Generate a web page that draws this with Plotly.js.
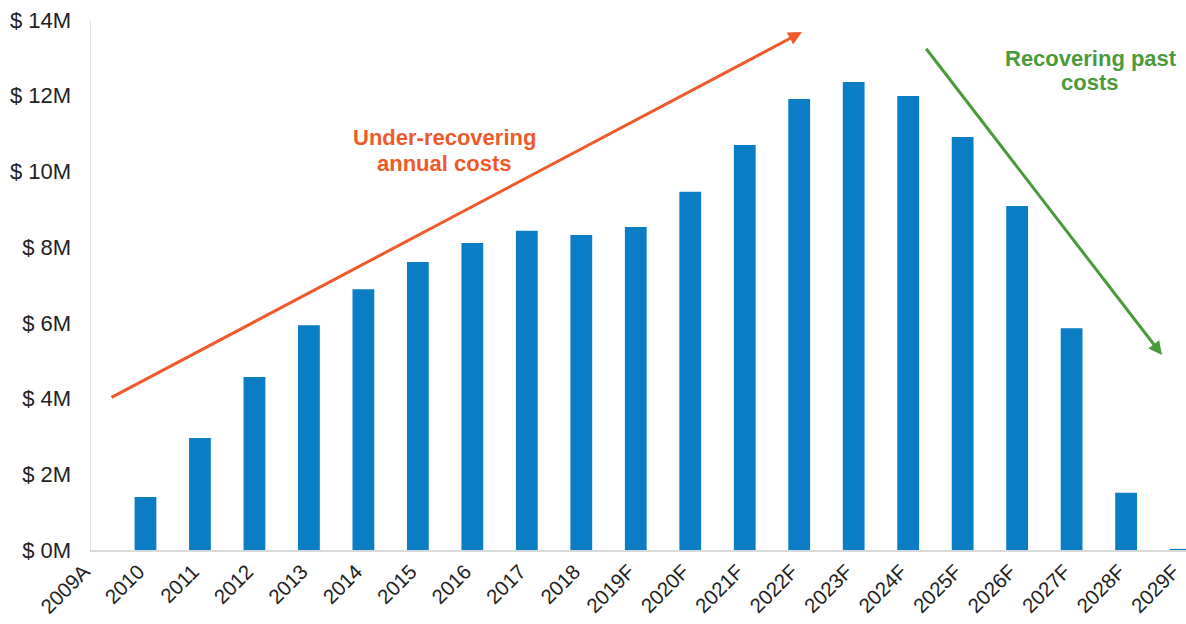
<!DOCTYPE html>
<html>
<head>
<meta charset="utf-8">
<script src="https://cdn.plot.ly/plotly-3.0.1.min.js"></script>
<style>html,body{margin:0;padding:0;background:#fff;}#chart{width:1186px;height:624px;}</style>
</head>
<body>
<div id="chart"></div>
<script>
const years = ["2009A","2010","2011","2012","2013","2014","2015","2016","2017","2018","2019F","2020F","2021F","2022F","2023F","2024F","2025F","2026F","2027F","2028F","2029F"];
const balanceM = [0, 1.40, 2.96, 4.57, 5.94, 6.89, 7.61, 8.11, 8.43, 8.32, 8.53, 9.46, 10.70, 11.91, 12.36, 11.99, 10.91, 9.09, 5.86, 1.51, 0.03];
const yTickVals = [0, 2, 4, 6, 8, 10, 12, 14];
const yTickText = ["$ 0M","$ 2M","$ 4M","$ 6M","$ 8M","$ 10M","$ 12M","$ 14M"];

const trace = {
  type: "bar",
  x: years,
  y: balanceM,
  marker: {color: "#0A7DC5"},
  width: 0.4,
  hoverinfo: "x+y"
};

const plotL = 91, plotT = 20, plotW = 1095, plotH = 530;
function px(xp) { return (xp - plotL) / plotW; }
function py(yp) { return (plotT + plotH - yp) / plotH; }

const orange = "#EE5A2A", green = "#4A9A3C";

const layout = {
  width: 1186, height: 624,
  margin: {l: 91, r: 0, t: 20, b: 74},
  paper_bgcolor: "#ffffff",
  plot_bgcolor: "#ffffff",
  font: {family: "Liberation Sans, Arial, sans-serif", color: "#222222"},
  showlegend: false,
  xaxis: {
    type: "category",
    range: [0, 20.1],
    tickangle: -45,
    tickfont: {size: 20.5, color: "#222222"},
    ticklabelshift: -7,
    showline: true, linecolor: "#d9d9d9", linewidth: 1.5,
    showgrid: false, ticks: "", zeroline: false
  },
  yaxis: {
    range: [0, 14],
    tickvals: yTickVals,
    ticktext: yTickText,
    tickfont: {size: 22, color: "#222222"},
    showline: true, linecolor: "#e3e3e3", linewidth: 1.5,
    showgrid: false, ticks: "", zeroline: false,
    ticklabelstandoff: 14
  },
  annotations: [
    {
      xref: "x", yref: "y", axref: "x", ayref: "y",
      x: 13.05, y: 13.68, ax: 0.35, ay: 4.01,
      showarrow: true, arrowhead: 2, arrowsize: 0.9, arrowwidth: 3, arrowcolor: orange,
      text: ""
    },
    {
      xref: "x", yref: "y", axref: "x", ayref: "y",
      x: 19.66, y: 5.15, ax: 15.31, ay: 13.28,
      showarrow: true, arrowhead: 2, arrowsize: 0.9, arrowwidth: 3, arrowcolor: green,
      text: ""
    },
    {
      xref: "paper", yref: "paper", x: px(444), y: py(138),
      xanchor: "center", yanchor: "middle", showarrow: false,
      text: "<b>Under-recovering</b>", font: {size: 22, color: orange}
    },
    {
      xref: "paper", yref: "paper", x: px(444), y: py(163),
      xanchor: "center", yanchor: "middle", showarrow: false,
      text: "<b>annual costs</b>", font: {size: 22, color: orange}
    },
    {
      xref: "paper", yref: "paper", x: px(1091), y: py(59),
      xanchor: "center", yanchor: "middle", showarrow: false,
      text: "<b>Recovering past</b>", font: {size: 22, color: green}
    },
    {
      xref: "paper", yref: "paper", x: px(1089), y: py(83),
      xanchor: "center", yanchor: "middle", showarrow: false,
      text: "<b>costs</b>", font: {size: 22, color: green}
    }
  ]
};

Plotly.newPlot("chart", [trace], layout, {displayModeBar: false, staticPlot: true});
</script>
</body>
</html>
